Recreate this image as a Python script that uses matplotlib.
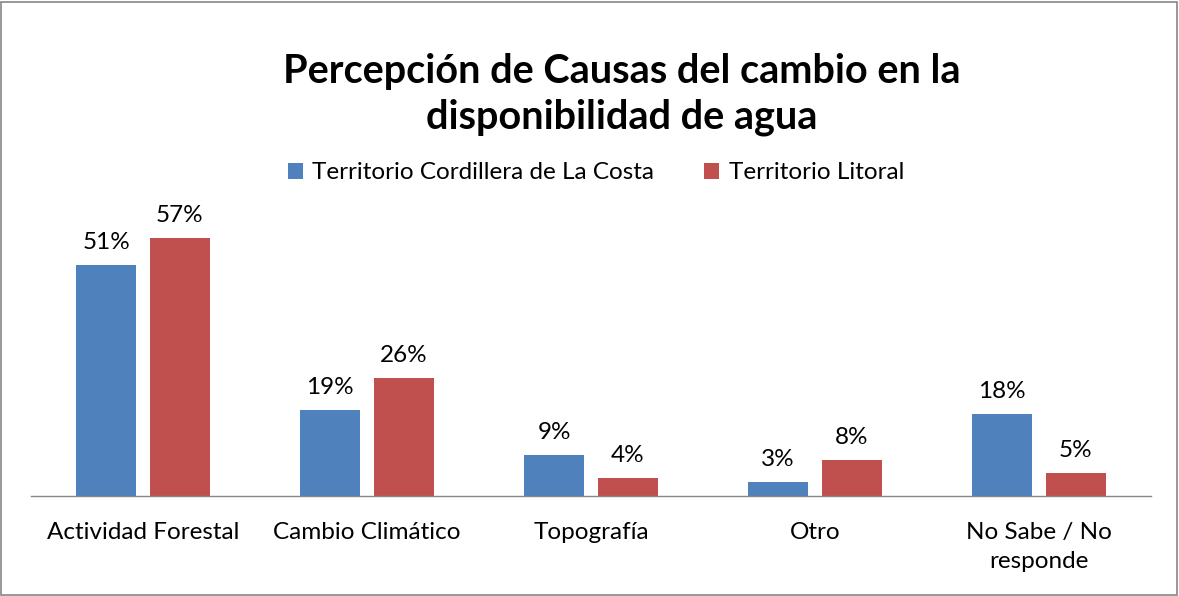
import matplotlib
matplotlib.use("Agg")
import matplotlib.pyplot as plt
import numpy as np

categories = ["Actividad Forestal", "Cambio Climático", "Topografía", "Otro", "No Sabe / No\nresponde"]
series_names = ["Territorio Cordillera de La Costa", "Territorio Litoral"]
cordillera = [0.51, 0.19, 0.09, 0.03, 0.18]
litoral = [0.57, 0.26, 0.04, 0.08, 0.05]
colors = ["#4F81BD", "#C0504D"]

W, H = 1179, 596
fig = plt.figure(figsize=(W / 100, H / 100), dpi=100)
plt.rcParams['font.family'] = ['Lato', 'DejaVu Sans']

ax_left, ax_right = 31, 1151
base_y = 496
ppu = 453  # pixels per 1.0
ymax = 0.65
ax_top = base_y - ymax * ppu
ax = fig.add_axes([ax_left / W, 1 - base_y / H, (ax_right - ax_left) / W, (base_y - ax_top) / H])

x = np.arange(len(categories))
bw = 0.266
off = 0.165
for vals, col, sgn, name in [(cordillera, colors[0], -1, series_names[0]), (litoral, colors[1], 1, series_names[1])]:
    bars = ax.bar(x + sgn * off, vals, width=bw, color=col, label=name)
    for b, v in zip(bars, vals):
        ax.text(b.get_x() + b.get_width() / 2, v + 0.027, f"{round(v * 100)}%", ha="center", va="bottom",
                fontsize=17.5, color="black", clip_on=False)

ax.set_xlim(-0.5, len(categories) - 0.5)
ax.set_ylim(0, ymax)
ax.set_yticks([])
ax.set_xticks(x)
ax.set_xticklabels(categories, fontsize=17.5, linespacing=1.45)
ax.tick_params(axis="x", length=0, pad=19)
for s in ["top", "right", "left"]:
    ax.spines[s].set_visible(False)
ax.spines["bottom"].set_color("#868686")
ax.spines["bottom"].set_linewidth(1.0)
ax.patch.set_alpha(0)

fig.text(622 / W, 1 - 72 / H, "Percepción de Causas del cambio en la", ha="center", va="center",
         fontsize=28.5, fontweight="bold")
fig.text(622 / W, 1 - 117 / H, "disponibilidad de agua", ha="center", va="center",
         fontsize=28.5, fontweight="bold")

leg = fig.legend(loc="center", bbox_to_anchor=(596 / W, 1 - 173 / H), ncol=2, frameon=False,
                 fontsize=17.5, handlelength=0.62, handleheight=0.62, handletextpad=0.4, columnspacing=2.05)

border = plt.Rectangle((1 / W, 1 / H), (W - 3) / W, (H - 3) / H, transform=fig.transFigure,
                       fill=False, edgecolor="#868686", linewidth=1.2)
fig.patches.append(border)

fig.savefig("out.png", dpi=100)
